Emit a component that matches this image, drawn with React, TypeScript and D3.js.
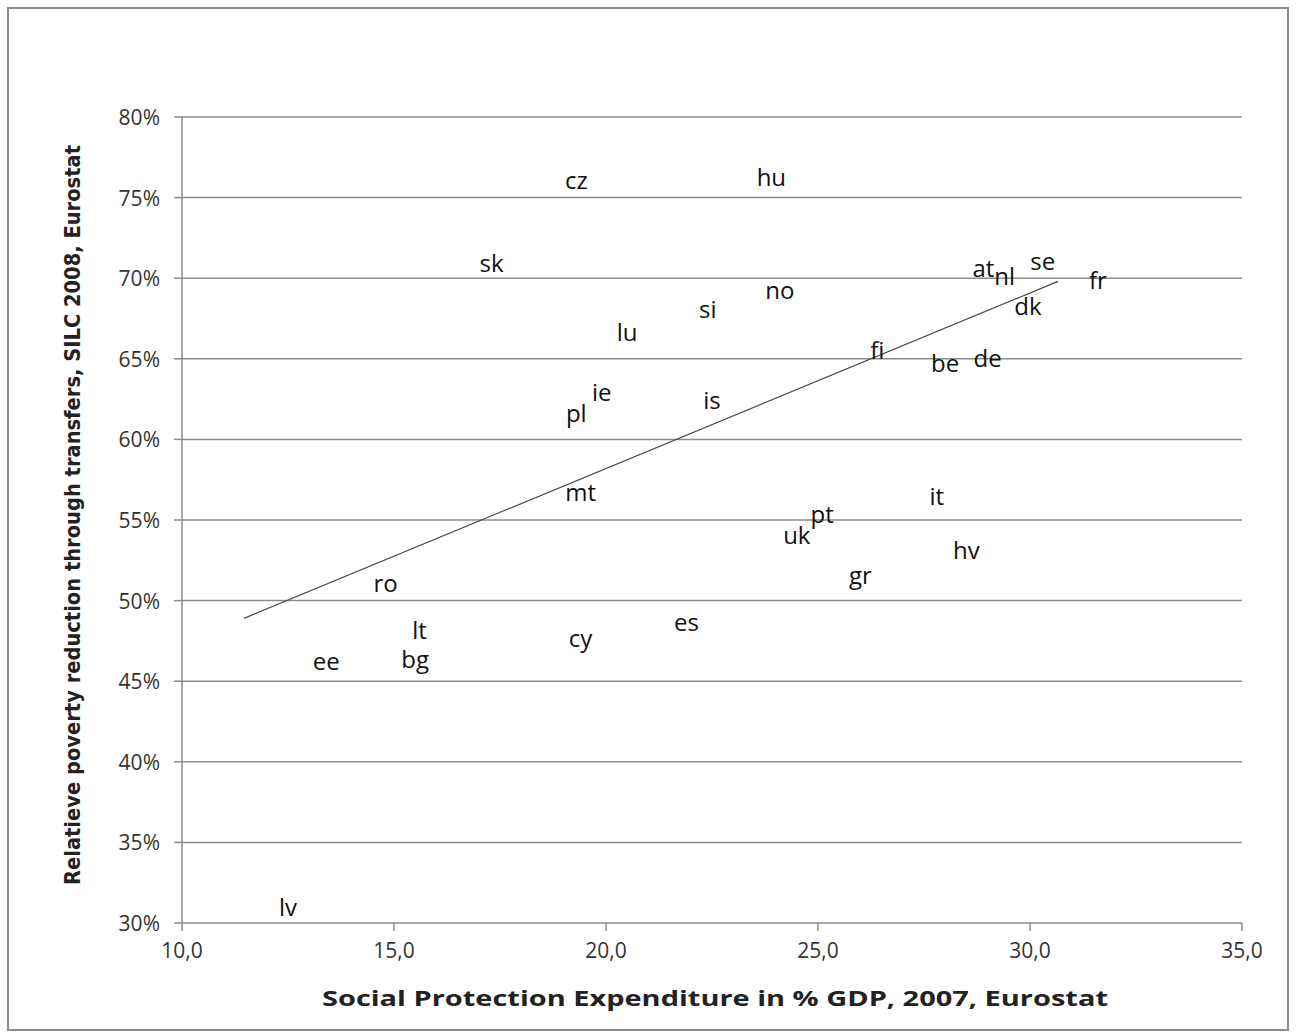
import * as d3 from 'd3';

const countries = ['cz','hu','sk','at','nl','se','fr','no','dk','si','lu','fi','be','de','ie','pl','is','mt','it','pt','uk','hv','gr','ro','es','lt','cy','bg','ee','lv'];
const spending = [19.3,23.9,17.3,28.9,29.4,30.3,31.6,24.1,29.95,22.4,20.5,26.4,28.0,29.0,19.9,19.3,22.5,19.4,27.8,25.1,24.5,28.5,26.0,14.8,21.9,15.6,19.4,15.5,13.4,12.5];
const reduction = [76.0,76.2,70.9,70.6,70.1,71.0,69.8,69.2,68.2,68.0,66.6,65.5,64.7,65.0,62.9,61.6,62.4,56.7,56.4,55.3,54.0,53.1,51.5,51.0,48.6,48.1,47.6,46.3,46.2,30.9];
const trendX = [11.46, 30.66];
const trendY = [48.9, 69.8];
const xTicks = [10, 15, 20, 25, 30, 35];
const yTicks = [30, 35, 40, 45, 50, 55, 60, 65, 70, 75, 80];

export default function App() {
  const W = 1296, H = 1032;
  const x = d3.scaleLinear().domain([10, 35]).range([182, 1242]);
  const y = d3.scaleLinear().domain([30, 80]).range([923, 117]);
  const font = "'Open Sans', 'Liberation Sans', sans-serif";
  return (
    <svg width={W} height={H} style={{ position: 'absolute', left: 0, top: 0, background: '#fff' }}>
      <rect x={8} y={8} width={W - 16} height={H - 10} fill="none" stroke="#8a8a8a" strokeWidth={2} />
      {yTicks.map(t => (
        <g key={t}>
          <line x1={182} x2={1242} y1={y(t)} y2={y(t)} stroke="#8c8c8c" strokeWidth={1.5} />
          <line x1={174} x2={182} y1={y(t)} y2={y(t)} stroke="#8c8c8c" strokeWidth={1.5} />
          <text x={160} y={y(t) + 8} textAnchor="end" fontSize={21} fontFamily={font} fill="#333">{t}%</text>
        </g>
      ))}
      <line x1={182} x2={182} y1={117} y2={923} stroke="#8c8c8c" strokeWidth={1.5} />
      {xTicks.map(t => (
        <g key={t}>
          <line x1={x(t)} x2={x(t)} y1={923} y2={931} stroke="#8c8c8c" strokeWidth={1.5} />
          <text x={x(t)} y={958} textAnchor="middle" fontSize={21} fontFamily={font} fill="#333">{d3.format('.1f')(t).replace('.', ',')}</text>
        </g>
      ))}
      <line x1={x(trendX[0])} y1={y(trendY[0])} x2={x(trendX[1])} y2={y(trendY[1])} stroke="#444" strokeWidth={1.2} />
      {countries.map((c, i) => (
        <text key={c} x={x(spending[i])} y={y(reduction[i]) + 8} textAnchor="middle" fontSize={24} fontFamily={font} fill="#111">{c}</text>
      ))}
      <text x={715} y={1006} textAnchor="middle" fontSize={21} fontWeight="bold" fontFamily={font} fill="#222" textLength={786} lengthAdjust="spacingAndGlyphs">Social Protection Expenditure in % GDP, 2007, Eurostat</text>
      <text transform="translate(80,515) rotate(-90)" textAnchor="middle" fontSize={21} fontWeight="bold" fontFamily="'Liberation Sans Narrow', 'DejaVu Sans Condensed', sans-serif" fill="#222" textLength={740} lengthAdjust="spacingAndGlyphs">Relatieve poverty reduction through transfers, SILC 2008, Eurostat</text>
    </svg>
  );
}
